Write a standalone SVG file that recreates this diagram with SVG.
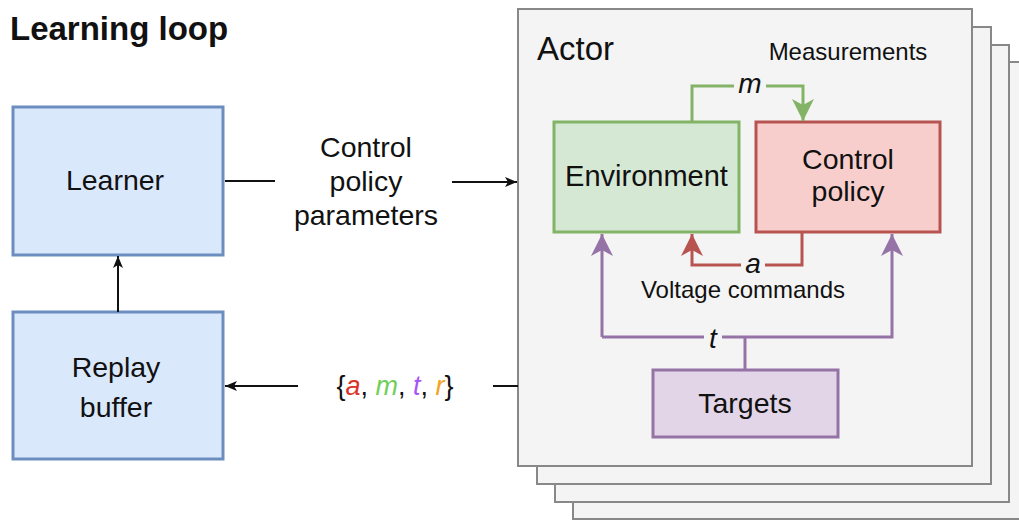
<svg xmlns="http://www.w3.org/2000/svg" width="1019" height="521" viewBox="0 0 1019 521">
  <style>
    text { font-family: "Liberation Sans", Arial, sans-serif; fill: #111; }
    .lbl { font-size: 28.5px; text-anchor: middle; }
    .sm { font-size: 24px; text-anchor: middle; }
    .var { font-size: 28px; font-style: italic; text-anchor: middle; }
    .stack { fill: #f4f4f4; stroke: #888; stroke-width: 2; }
    .blue { fill: #dae8fc; stroke: #6c8ebf; stroke-width: 3; }
    .green { fill: #d5e8d4; stroke: #82b366; stroke-width: 3; }
    .red { fill: #f8cecc; stroke: #b85450; stroke-width: 3; }
    .purple { fill: #e1d5e7; stroke: #9673a6; stroke-width: 3; }
    .ln { fill: none; stroke-width: 3; }
    .blk { fill: none; stroke: #111; stroke-width: 2; }
  </style>
  <defs>
    <marker id="ak" markerUnits="userSpaceOnUse" markerWidth="12" markerHeight="10" refX="12" refY="5" orient="auto">
      <path d="M12,5 L0,0 L3,5 L0,10 Z" fill="#111"/>
    </marker>
    <marker id="ag" markerUnits="userSpaceOnUse" markerWidth="22" markerHeight="22" refX="22" refY="11" orient="auto">
      <path d="M22,11 L0,0 L6,11 L0,22 Z" fill="#82b366"/>
    </marker>
    <marker id="ar" markerUnits="userSpaceOnUse" markerWidth="22" markerHeight="22" refX="22" refY="11" orient="auto">
      <path d="M22,11 L0,0 L6,11 L0,22 Z" fill="#b85450"/>
    </marker>
    <marker id="ap" markerUnits="userSpaceOnUse" markerWidth="22" markerHeight="22" refX="22" refY="11" orient="auto">
      <path d="M22,11 L0,0 L6,11 L0,22 Z" fill="#9673a6"/>
    </marker>
  </defs>

  <rect width="1019" height="521" fill="#ffffff"/>

  <text x="10" y="40" style="font-size:33px;font-weight:bold;">Learning loop</text>

  <g id="actor-stack">
    <rect class="stack" x="573" y="62" width="454" height="457"/>
    <rect class="stack" x="555" y="45" width="454" height="457"/>
    <rect class="stack" x="537" y="27" width="454" height="457"/>
  </g>
  <g id="actor">
    <rect class="stack" x="518" y="9" width="454" height="457"/>
    <text x="537" y="60" style="font-size:33px;">Actor</text>
  </g>

  <g id="learner">
    <rect class="blue" x="13" y="107" width="210" height="148"/>
    <text class="lbl" x="115" y="190">Learner</text>
  </g>
  <g id="replay-buffer">
    <rect class="blue" x="13" y="312" width="210" height="147"/>
    <text class="lbl" x="116" y="377">Replay</text>
    <text class="lbl" x="116" y="417">buffer</text>
  </g>
  <g id="environment">
    <rect class="green" x="554" y="122" width="185" height="110"/>
    <text class="lbl" x="646.5" y="186" style="font-size:29px;">Environment</text>
  </g>
  <g id="control-policy">
    <rect class="red" x="756" y="122" width="184" height="110"/>
    <text class="lbl" x="848" y="169">Control</text>
    <text class="lbl" x="848" y="201">policy</text>
  </g>
  <g id="targets">
    <rect class="purple" x="653" y="370" width="185" height="67"/>
    <text class="lbl" x="745" y="413">Targets</text>
  </g>

  <g id="connectors">
    <!-- Learner -> Actor -->
    <line class="blk" x1="225" y1="181" x2="275" y2="181"/>
    <line class="blk" x1="452" y1="182" x2="517" y2="182" marker-end="url(#ak)"/>
    <text class="lbl" x="366" y="157">Control</text>
    <text class="lbl" x="366" y="191">policy</text>
    <text class="lbl" x="366" y="225">parameters</text>

    <!-- Replay buffer -> Learner -->
    <line class="blk" x1="118" y1="312" x2="118" y2="256" marker-end="url(#ak)"/>

    <!-- Actor -> Replay buffer -->
    <line class="blk" x1="518" y1="386" x2="493" y2="386"/>
    <line class="blk" x1="298" y1="386" x2="225" y2="386" marker-end="url(#ak)"/>
    <text x="395" y="395" style="font-size:27px;text-anchor:middle;">{<tspan font-style="italic" fill="#d9342b">a</tspan>, <tspan font-style="italic" fill="#6fcf5a">m</tspan>, <tspan font-style="italic" fill="#a855f7">t</tspan>, <tspan font-style="italic" fill="#f2a420">r</tspan>}</text>

    <!-- Measurements m -->
    <polyline class="ln" stroke="#82b366" points="692,122 692,86 803,86 803,121" marker-end="url(#ag)"/>
    <rect x="734" y="72" width="32" height="28" fill="#f4f4f4"/>
    <text class="var" x="750" y="93">m</text>
    <text class="sm" x="848" y="60">Measurements</text>

    <!-- Voltage commands a -->
    <polyline class="ln" stroke="#b85450" points="802,232 802,265 692,265 692,234" marker-end="url(#ar)"/>
    <rect x="741" y="252" width="24" height="24" fill="#f4f4f4"/>
    <text class="var" x="753" y="273">a</text>
    <text class="sm" x="743" y="298">Voltage commands</text>

    <!-- Targets t -->
    <polyline class="ln" stroke="#9673a6" points="602,337 602,234"  marker-end="url(#ap)"/>
    <polyline class="ln" stroke="#9673a6" points="602,337 892,337 892,234" marker-end="url(#ap)"/>
    <line class="ln" stroke="#9673a6" x1="745" y1="337" x2="745" y2="370"/>
    <rect x="704" y="324" width="18" height="26" fill="#f4f4f4"/>
    <text class="var" x="713" y="348">t</text>
  </g>
</svg>
